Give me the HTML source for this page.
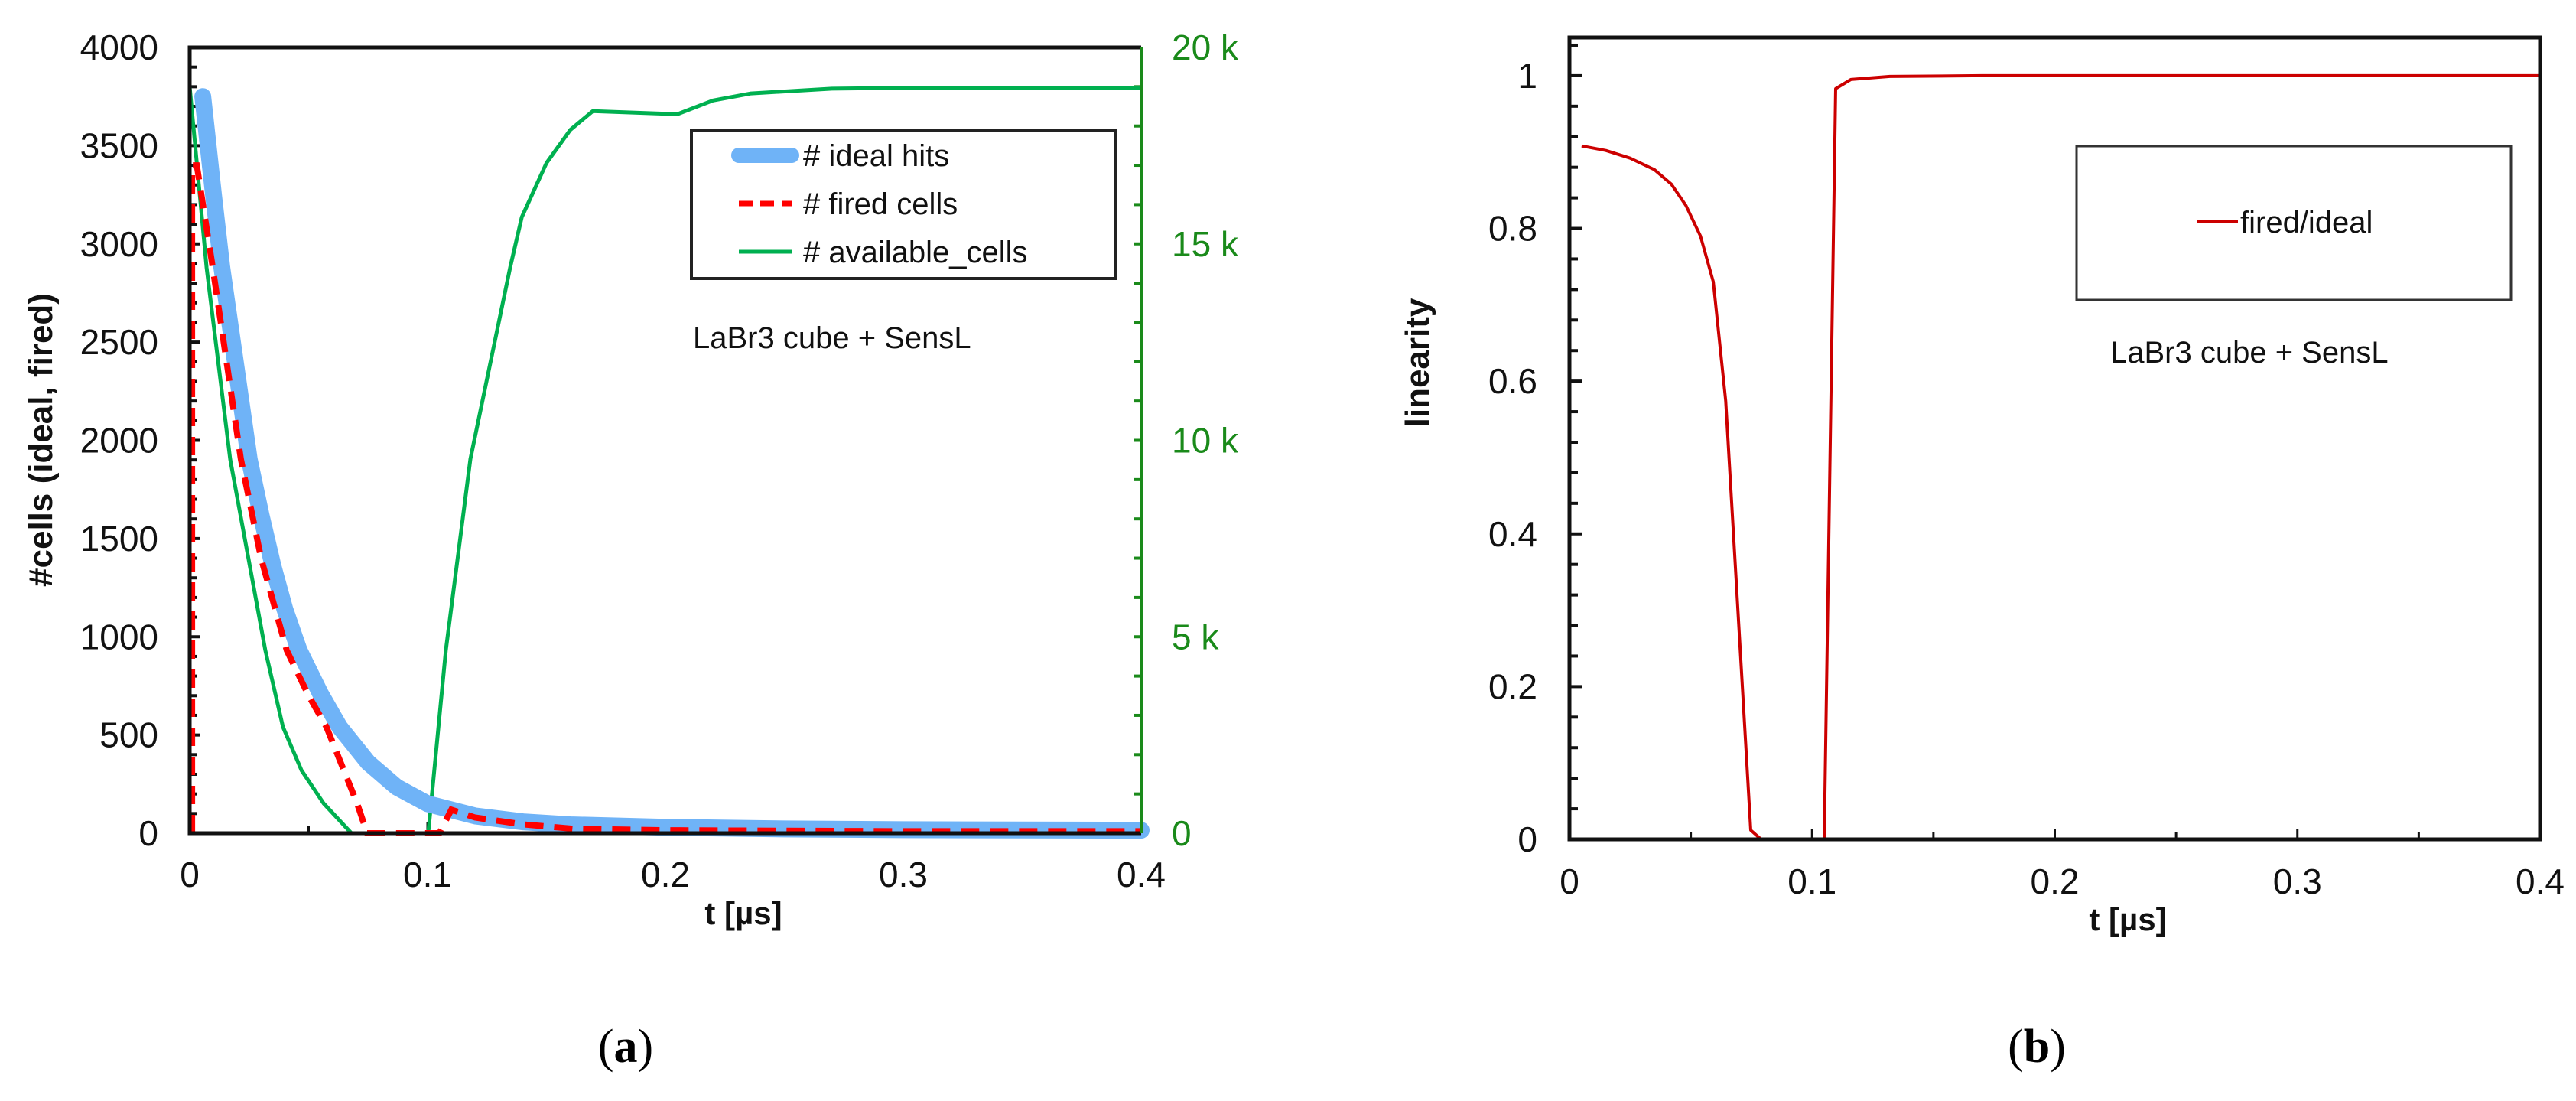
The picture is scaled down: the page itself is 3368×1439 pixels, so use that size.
<!DOCTYPE html>
<html><head><meta charset="utf-8"><style>
html,body{margin:0;padding:0;background:#fff;}
svg{display:block;font-family:"Liberation Sans",Arial,sans-serif;}
</style></head><body>
<svg id="fig" width="3368" height="1439" viewBox="0 0 3368 1439" xmlns="http://www.w3.org/2000/svg">
<rect x="0" y="0" width="3368" height="1439" fill="#fff"/>
<g id="chartA"></g>
<g id="chartB"></g>
<text x="818" y="1388" font-family="Liberation Serif,serif" font-size="62" text-anchor="middle">(<tspan font-weight="bold">a</tspan>)</text>
<text x="2663" y="1388" font-family="Liberation Serif,serif" font-size="62" text-anchor="middle">(<tspan font-weight="bold">b</tspan>)</text>
</svg>
<script>
// ---- Chart (a) data ----
const idealT = [0.0055,0.01,0.0135,0.02,0.025,0.03,0.035,0.04,0.046,0.055,0.063,0.075,0.087,0.1,0.12,0.14,0.16,0.2,0.25,0.3,0.4];
const idealV = [3750,3250,2880,2330,1904,1620,1360,1140,931,710,541,360,235,150,88,58,43,30,22,18,15];
const firedT = [0.001,0.001,0.003,0.0097,0.0215,0.03,0.0408,0.05,0.0575,0.0704,0.0746,0.105,0.110,0.12,0.14,0.161,0.2,0.3,0.4];
const firedV = [0,3400,3400,2878,1904,1400,931,700,541,152,0,0,120,80,45,23,15,10,10];
const availT = [0,0.0071,0.017,0.0318,0.0392,0.047,0.0563,0.068,0.1003,0.1077,0.118,0.1347,0.1396,0.15,0.16,0.1695,0.205,0.22,0.236,0.27,0.3,0.4];
const availV = [19000,14391,9523,4654,2707,1600,760,0,0,4654,9523,14391,15680,17060,17900,18380,18300,18650,18830,18950,18970,18970];
const xTicksA = ["0","0.1","0.2","0.3","0.4"];
const yTicksA = ["0","500","1000","1500","2000","2500","3000","3500","4000"];
const y2TicksA = ["0","5 k","10 k","15 k","20 k"];
// ---- Chart (b) data ----
const linT = [0.005,0.015,0.025,0.035,0.042,0.048,0.054,0.0593,0.0644,0.0747,0.079,0.105,0.1097,0.116,0.132,0.17,0.4];
const linV = [0.908,0.902,0.892,0.877,0.858,0.830,0.790,0.730,0.574,0.012,0,0,0.983,0.995,0.999,1.0,1.0];
const xTicksB = ["0","0.1","0.2","0.3","0.4"];
const yTicksB = ["0","0.2","0.4","0.6","0.8","1"];

const NS="http://www.w3.org/2000/svg";
function mk(parent,tag,attrs,text){const e=document.createElementNS(NS,tag);for(const k in attrs)e.setAttribute(k,attrs[k]);if(text!==undefined)e.textContent=text;parent.appendChild(e);return e;}
function pathD(ts,vs,sx,sy){return ts.map((t,i)=>(i?"L":"M")+sx(t).toFixed(1)+","+sy(vs[i]).toFixed(1)).join(" ");}

// ===== Chart A =====
(function(){
const g=document.getElementById('chartA');
const L=248,R=1492,T=62,B=1089;
const sx=t=>L+(t/0.4)*(R-L);
const sy=v=>B-(v/4000)*(B-T);
const sy2=v=>B-(v/20000)*(B-T);
for(let v=0;v<=4000;v+=100){const t=mk(g,'line',{x1:L,x2:L+(v%500===0?14:10),y1:sy(v),y2:sy(v),stroke:'#111','stroke-width':4});

}
for(let v=1000;v<20000;v+=1000){const t=mk(g,'line',{x1:R,x2:R-10,y1:sy2(v),y2:sy2(v),stroke:'#1a8a1a','stroke-width':4});

}
for(let k=1;k<8;k++){const x=sx(k*0.05);const t=mk(g,'line',{x1:x,x2:x,y1:B,y2:B-(k%2?10:14),stroke:'#111','stroke-width':3});

}
const avail=mk(g,'path',{d:pathD(availT,availV,sx,sy2),fill:'none',stroke:'#00b050','stroke-width':5,'stroke-linejoin':'round'});


const ideal=mk(g,'path',{d:pathD(idealT,idealV,sx,sy),fill:'none',stroke:'#6fb3f7','stroke-width':22,'stroke-linecap':'round','stroke-linejoin':'round'});


const fired=mk(g,'path',{d:pathD(firedT,firedV,sx,sy),fill:'none',stroke:'#ff0000','stroke-width':8,'stroke-dasharray':'24 14'});


const fr=mk(g,'path',{d:`M${R},${T} L${L},${T} L${L},${B} L${R},${B}`,fill:'none',stroke:'#111','stroke-width':5});


const ra=mk(g,'line',{x1:R,x2:R,y1:T,y2:B,stroke:'#1a8a1a','stroke-width':4});


yTicksA.forEach((s,i)=>{const t=mk(g,'text',{x:207,y:sy(i*500)+16,'font-size':46,'text-anchor':'end',fill:'#111'},s);

});
y2TicksA.forEach((s,i)=>{const t=mk(g,'text',{x:1532,y:sy2(i*5000)+16,'font-size':46,fill:'#1a8a1a'},s);

});
xTicksA.forEach((s,i)=>{const t=mk(g,'text',{x:sx(i*0.1),y:1159,'font-size':46,'text-anchor':'middle',fill:'#111'},s);

});
const xt=mk(g,'text',{x:972,y:1208,'font-size':42,'font-weight':'bold','text-anchor':'middle',fill:'#111'},'t [µs]');


const yt=mk(g,'text',{x:0,y:0,'font-size':44,'font-weight':'bold','text-anchor':'middle',fill:'#111',transform:'translate(68,575) rotate(-90)'},'#cells (ideal, fired)');


const lg=mk(g,'g',{});


mk(lg,'rect',{x:904,y:170,width:555,height:194,fill:'#fff',stroke:'#222','stroke-width':4});
const ent=[['# ideal hits','#6fb3f7',20,null,203],['# fired cells','#ff0000',7,'18 10',266],['# available_cells','#00b050',5,null,329]];
ent.forEach(e=>{const ln=mk(lg,'line',{x1:966,x2:1035,y1:e[4],y2:e[4],stroke:e[1],'stroke-width':e[2],'stroke-linecap':e[2]>10?'round':'butt'});if(e[3])ln.setAttribute('stroke-dasharray',e[3]);
const tx=mk(lg,'text',{x:1050,y:e[4]+14,'font-size':40,fill:'#111'},e[0]);

});
const ann=mk(g,'text',{x:906,y:455,'font-size':40,fill:'#111'},'LaBr3 cube + SensL');


})();

// ===== Chart B =====
(function(){
const g=document.getElementById('chartB');
const L=2052,R=3321,T=49,B=1097;
const sx=t=>L+(t/0.4)*(R-L);
const sy=v=>B-(v/1.05)*(B-T);
for(let k=1;k<=26;k++){const v=k*0.04;const y=sy(v);const t=mk(g,'line',{x1:L,x2:L+(k%5===0?16:11),y1:y,y2:y,stroke:'#111','stroke-width':4});

}
for(let k=1;k<8;k++){const x=sx(k*0.05);const t=mk(g,'line',{x1:x,x2:x,y1:B,y2:B-(k%2?10:14),stroke:'#111','stroke-width':3});

}
const ln=mk(g,'path',{d:pathD(linT,linV,sx,sy),fill:'none',stroke:'#cc0000','stroke-width':4,'stroke-linejoin':'round'});


const fr=mk(g,'rect',{x:L,y:T,width:R-L,height:B-T,fill:'none',stroke:'#111','stroke-width':5});


yTicksB.forEach((s,i)=>{const t=mk(g,'text',{x:2010,y:sy(i*0.2)+16,'font-size':46,'text-anchor':'end',fill:'#111'},s);

});
xTicksB.forEach((s,i)=>{const t=mk(g,'text',{x:sx(i*0.1),y:1168,'font-size':46,'text-anchor':'middle',fill:'#111'},s);

});
const xt=mk(g,'text',{x:2782,y:1216,'font-size':42,'font-weight':'bold','text-anchor':'middle',fill:'#111'},'t [µs]');


const yt=mk(g,'text',{x:0,y:0,'font-size':44,'font-weight':'bold','text-anchor':'middle',fill:'#111',transform:'translate(1868,474) rotate(-90)'},'linearity');


const lg=mk(g,'g',{});


mk(lg,'rect',{x:2715,y:191,width:568,height:201,fill:'#fff',stroke:'#333','stroke-width':3});
mk(lg,'line',{x1:2873,x2:2926,y1:290,y2:290,stroke:'#cc0000','stroke-width':4});
const le=mk(lg,'text',{x:2929,y:304,'font-size':40,fill:'#111'},'fired/ideal');


const ann=mk(g,'text',{x:2759,y:474,'font-size':40,fill:'#111'},'LaBr3 cube + SensL');


})();
</script>
</body></html>
